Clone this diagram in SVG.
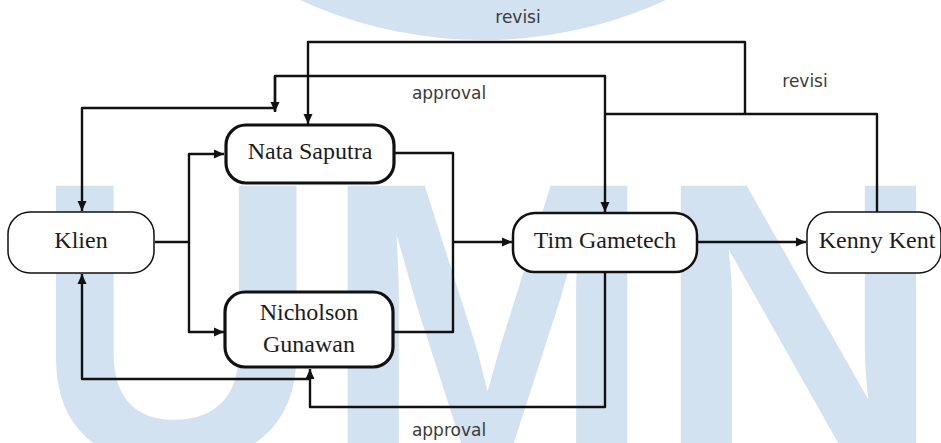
<svg xmlns="http://www.w3.org/2000/svg" width="941" height="443" viewBox="0 0 941 443">
<style>
.wm{fill:#d2e2f0}
.box{fill:#fff;stroke:#111}
.thin{stroke-width:1.5}
.mid{stroke-width:2.5}
.thick{stroke-width:3.2}
.nt{font-family:"Liberation Serif","Times New Roman",serif;font-size:24px;fill:#1c1c1c;text-anchor:middle}
.lbl{font-family:"DejaVu Sans",Verdana,sans-serif;font-size:17px;fill:#3a3a3a;text-anchor:middle}
.ln{fill:none;stroke:#111;stroke-width:2.4;stroke-linejoin:round}
.ar{marker-end:url(#ah)}
</style>
<defs>
<marker id="ah" markerUnits="userSpaceOnUse" markerWidth="11" markerHeight="10" refX="10" refY="5" orient="auto">
<path d="M0,0.5 L10,5 L0,9.5 z" fill="#111"/>
</marker>
</defs>
<g id="watermark">
<circle class="wm" cx="483" cy="-398" r="438"/>
<text x="32" y="461" font-family="'Liberation Sans',Arial,sans-serif" font-weight="bold" font-size="400" class="wm">UMN</text>
</g>
<g id="connectors">
<path class="ln ar" d="M155,242 H189 V154 H224"/>
<path class="ln ar" d="M189,242 V332 H224"/>
<path class="ln" d="M395,153 H453 V332 H394"/>
<path class="ln ar" d="M453,242 H512"/>
<path class="ln ar" d="M697,242 H806"/>
<path class="ln ar" d="M605,273 V407 H310 V369"/>
<path class="ln ar" d="M310,379 H82 V274"/>
<path class="ln" d="M877,212 V114 H605"/>
<path class="ln ar" d="M745,114 V42 H308 V124"/>
<path class="ln ar" d="M275,111 V76 H605 V212"/>
<path class="ln ar" d="M275,76 V112"/>
<path class="ln ar" d="M275,108 H82 V211"/>
</g>
<g id="labels">
<text class="lbl" x="518" y="23">revisi</text>
<text class="lbl" x="805" y="87">revisi</text>
<text class="lbl" x="449" y="99">approval</text>
<text class="lbl" x="449" y="436">approval</text>
</g>
<g id="klien">
<rect class="box thin" x="8" y="212" width="146" height="61" rx="22"/>
<text class="nt" x="81" y="248">Klien</text>
</g>
<g id="nata">
<rect class="box thick" x="226" y="125" width="168" height="58" rx="20"/>
<text class="nt" x="310" y="159">Nata Saputra</text>
</g>
<g id="nicholson">
<rect class="box thick" x="225" y="292" width="168" height="75" rx="20"/>
<text class="nt" x="309" y="320">Nicholson</text>
<text class="nt" x="309" y="352">Gunawan</text>
</g>
<g id="tim">
<rect class="box mid" x="513" y="213" width="184" height="59" rx="22"/>
<text class="nt" x="605" y="248">Tim Gametech</text>
</g>
<g id="kenny">
<rect class="box thin" x="807" y="212" width="134" height="61" rx="22"/>
<text class="nt" x="877" y="248">Kenny Kent</text>
</g>
</svg>
